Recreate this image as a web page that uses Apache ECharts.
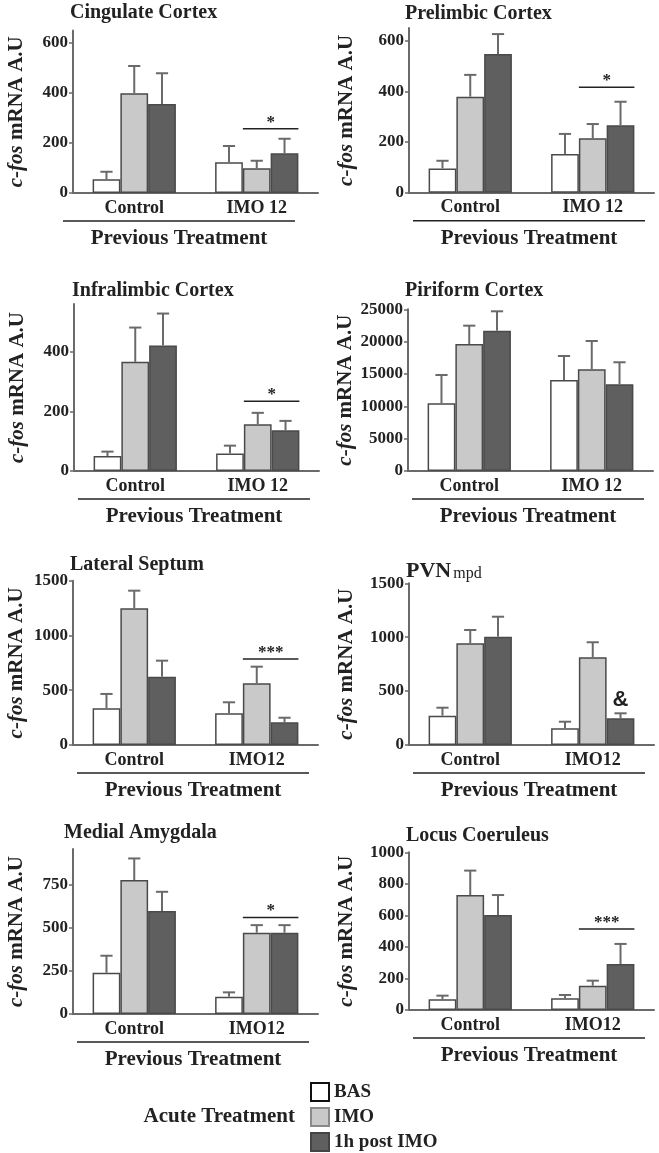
<!DOCTYPE html>
<html>
<head>
<meta charset="utf-8">
<script src="https://cdn.jsdelivr.net/npm/echarts@6/dist/echarts.min.js"></script>
<style>
html, body { margin: 0; padding: 0; background: #fff; }
#main { width: 659px; height: 1153px; }
</style>
</head>
<body>
<div id="main"></div>
<script>
// panel data, order: Cingulate, Prelimbic, Infralimbic, Piriform, Lateral Septum, PVNmpd, Medial Amygdala, Locus Coeruleus
var titles = ['Cingulate Cortex', 'Prelimbic Cortex', 'Infralimbic Cortex', 'Piriform Cortex',
    'Lateral Septum', '{a|PVN}{b|mpd}', 'Medial Amygdala', 'Locus Coeruleus'];
var groupNames = [
    ['Control', 'IMO 12'], ['Control', 'IMO 12'], ['Control', 'IMO 12'], ['Control', 'IMO 12'],
    ['Control', 'IMO12'], ['Control', 'IMO12'], ['Control', 'IMO12'], ['Control', 'IMO12']
];
var seriesNames = ['BAS', 'IMO', '1h post IMO'];

// [Control, IMO 12]
var basMean = [[55, 123], [96, 153], [50, 59], [10470, 14070], [335, 289], [272, 155], [240, 101], [68, 74]];
var basSem = [[30, 65], [30, 79], [15, 26], [4370, 3710], [131, 101], [74, 61], [99, 25], [23, 21]];
var imoMean = [[399, 99], [379, 215], [366, 157], [19640, 15720], [1248, 563], [943, 814], [779, 473], [729, 154]];
var imoSem = [[109, 30], [86, 56], [115, 38], [2830, 4380], [161, 152], [124, 139], [126, 44], [155, 32]];
var postMean = [[356, 159], [547, 266], [421, 137], [21690, 13400], [624, 207], [1005, 248], [599, 473], [602, 292]];
var postSem = [[123, 58], [79, 93], [107, 31], [3000, 3410], [146, 42], [185, 46], [112, 44], [127, 127]];

var yMax = [650, 650, 560, 25000, 1500, 1500, 960, 1000];
var yTicks = [
    [0, 200, 400, 600], [0, 200, 400, 600], [0, 200, 400],
    [0, 5000, 10000, 15000, 20000, 25000],
    [0, 500, 1000, 1500], [0, 500, 1000, 1500],
    [0, 250, 500, 750], [0, 200, 400, 600, 800, 1000]
];

// significance marks (value on y axis), '' = none
var sigText = ['*', '*', '*', '', '***', '&', '*', '***'];
var sigValue = [257, 416, 234, 0, 785, 417, 562, 514];

// layout: grid left, top, height ; title left, title centre y
var boxes = [
    [73, 30.5, 162.5], [409, 28, 164.7], [74, 304, 167], [408, 309.3, 161.7],
    [73, 580.7, 164.3], [409, 583.3, 161.7], [73, 849, 165], [409, 852.3, 157.7]
];
var titlePos = [[70, 15], [405, 16], [72, 293], [405, 293], [70, 567], [406, 572], [64, 835], [406, 838]];
var decoShift = [-14, 0, 0, 0, 0, 0, 0, 0];
var legendTops = [1082, 1107, 1132];

var FONT = 'Liberation Serif';
var INK = '#222';
var AXIS = '#6a6a6a';
var GRID_W = 245;
var CAT_GAP = 0.32;
var BAR_RATIO = (1 - CAT_GAP) / 3;
var fills = ['#ffffff', '#c9c9c9', '#5f5f5f'];
var legendBorders = ['#111', '#8a8a8a', '#444'];

function renderErr(params, api) {
    var cat = api.value(0), k = api.value(1), m = api.value(2), s = api.value(3);
    var bw = api.size([1, 0])[0] * BAR_RATIO;
    var base = api.coord([cat, m]);
    var x = base[0] + (k - 1) * bw;
    var yTop = api.coord([cat, m + s])[1];
    var cap = bw * 0.22;
    return {
        type: 'group',
        children: [
            { type: 'line', shape: { x1: x, y1: base[1], x2: x, y2: yTop }, style: { stroke: AXIS, lineWidth: 2 } },
            { type: 'line', shape: { x1: x - cap, y1: yTop, x2: x + cap, y2: yTop }, style: { stroke: AXIS, lineWidth: 2 } }
        ]
    };
}

function makeSig(text) {
    return function(params, api) {
        var bw = api.size([1, 0])[0] * BAR_RATIO;
        var p = api.coord([api.value(0), api.value(1)]);
        if (text === '&') {
            return {
                type: 'text',
                style: { text: '&', x: p[0] + bw, y: p[1], align: 'center', verticalAlign: 'middle',
                    font: 'bold 22px "Liberation Sans"', fill: INK }
            };
        }
        var x1 = p[0] - 0.5 * bw, x2 = p[0] + 1.5 * bw;
        return {
            type: 'group',
            children: [
                { type: 'line', shape: { x1: x1, y1: p[1], x2: x2, y2: p[1] }, style: { stroke: INK, lineWidth: 1.5 } },
                { type: 'text', style: { text: text, x: (x1 + x2) / 2, y: p[1] + 2, align: 'center', verticalAlign: 'bottom',
                    font: 'bold 17px "' + FONT + '"', fill: INK } }
            ]
        };
    };
}

var grids = [], xAxes = [], yAxes = [], series = [], titleList = [], graphics = [], legends = [];
var means = [basMean, imoMean, postMean];
var sems = [basSem, imoSem, postSem];

for (var i = 0; i < 8; i++) {
    var b = boxes[i];
    grids.push({ left: b[0], top: b[1], width: GRID_W, height: b[2] });
    xAxes.push({
        gridIndex: i,
        type: 'category',
        data: groupNames[i],
        axisLine: { lineStyle: { color: AXIS, width: 2 } },
        axisTick: { show: false },
        axisLabel: { margin: 6, color: INK, fontFamily: FONT, fontWeight: 'bold', fontSize: 18 }
    });
    yAxes.push({
        gridIndex: i,
        type: 'value',
        min: 0,
        max: yMax[i],
        name: '{i|c-fos} mRNA A.U',
        nameLocation: 'middle',
        nameGap: i % 2 === 0 ? 46 : 52,
        nameTextStyle: {
            color: INK, fontFamily: FONT, fontWeight: 'bold', fontSize: 21,
            rich: { i: { fontStyle: 'italic', fontFamily: FONT, fontWeight: 'bold', fontSize: 21, color: INK } }
        },
        axisLine: { show: true, lineStyle: { color: AXIS, width: 2 } },
        axisTick: { show: true, length: 4, lineStyle: { color: AXIS, width: 1.5 }, customValues: yTicks[i] },
        axisLabel: {
            customValues: yTicks[i], margin: 5, color: INK, fontFamily: FONT, fontWeight: 'bold', fontSize: 17,
            formatter: function(v) { return String(v); }
        },
        splitLine: { show: false }
    });
    titleList.push({
        text: titles[i],
        left: titlePos[i][0],
        top: titlePos[i][1] - 12,
        padding: 0,
        textStyle: {
            color: INK, fontFamily: FONT, fontWeight: 'bold', fontSize: 20,
            rich: {
                a: { fontFamily: FONT, fontWeight: 'bold', fontSize: 22, color: INK },
                b: { fontFamily: FONT, fontWeight: 'normal', fontSize: 16, color: INK, padding: [6, 0, 0, 2] }
            }
        }
    });

    var errData = [];
    for (var k = 0; k < 3; k++) {
        series.push({
            name: seriesNames[k],
            type: 'bar',
            xAxisIndex: i,
            yAxisIndex: i,
            data: means[k][i],
            barGap: '0%',
            barCategoryGap: (CAT_GAP * 100) + '%',
            itemStyle: { color: fills[k], borderColor: '#4a4a4a', borderWidth: 1.5 },
            silent: true
        });
        for (var g = 0; g < 2; g++) {
            errData.push([g, k, means[k][i][g], sems[k][i][g]]);
        }
    }
    series.push({
        type: 'custom',
        xAxisIndex: i,
        yAxisIndex: i,
        encode: { x: 0, y: 2 },
        data: errData,
        renderItem: renderErr,
        z: 3,
        silent: true
    });
    if (sigText[i]) {
        series.push({
            type: 'custom',
            xAxisIndex: i,
            yAxisIndex: i,
            encode: { x: 0, y: 1 },
            data: [[1, sigValue[i]]],
            renderItem: makeSig(sigText[i]),
            z: 4,
            silent: true
        });
    }

    // "Previous Treatment" bracket under each panel
    var ax = b[0] + decoShift[i];
    var y0 = b[1] + b[2];
    graphics.push({
        type: 'line',
        shape: { x1: ax + 4, y1: y0 + 28, x2: ax + 236, y2: y0 + 28 },
        style: { stroke: INK, lineWidth: 1.5 }
    });
    graphics.push({
        type: 'text',
        x: ax + 120,
        y: y0 + 46,
        style: { text: 'Previous Treatment', align: 'center', verticalAlign: 'middle',
            font: 'bold 21px "' + FONT + '"', fill: INK }
    });
}

for (var j = 0; j < 3; j++) {
    legends.push({
        left: 310,
        top: legendTops[j],
        padding: 0,
        itemWidth: 18,
        itemHeight: 18,
        icon: 'rect',
        selectedMode: false,
        textStyle: { color: INK, fontFamily: FONT, fontWeight: 'bold', fontSize: 19, lineHeight: 18 },
        data: [{ name: seriesNames[j], itemStyle: { color: fills[j], borderColor: legendBorders[j], borderWidth: 2 } }]
    });
}

graphics.push({
    type: 'text',
    x: 295,
    y: 1117,
    style: { text: 'Acute Treatment', align: 'right', verticalAlign: 'middle',
        font: 'bold 21px "' + FONT + '"', fill: INK }
});

var chart = echarts.init(document.getElementById('main'));
chart.setOption({
    animation: false,
    backgroundColor: '#fff',
    title: titleList,
    grid: grids,
    xAxis: xAxes,
    yAxis: yAxes,
    legend: legends,
    graphic: graphics,
    series: series
});
</script>
</body>
</html>
